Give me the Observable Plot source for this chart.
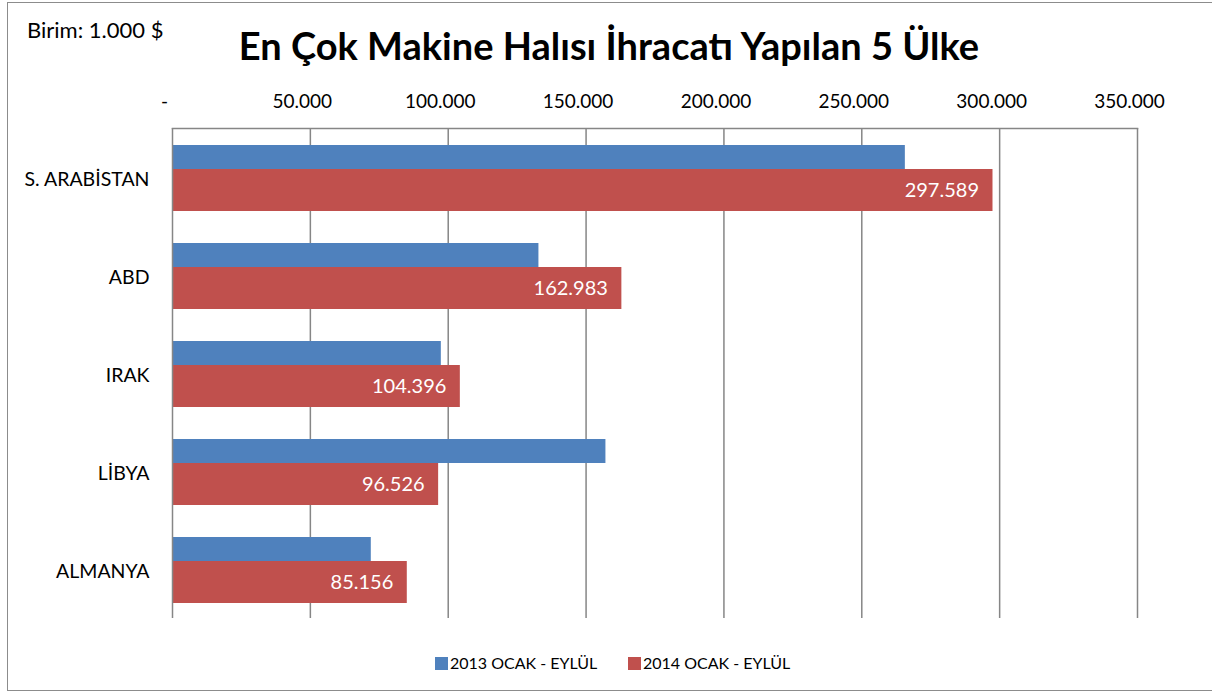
<!DOCTYPE html>
<html>
<head>
<meta charset="utf-8">
<script src="https://cdn.jsdelivr.net/npm/d3@7"></script>
<script src="https://cdn.jsdelivr.net/npm/@observablehq/plot@0.6"></script>
<style>
  html, body { margin: 0; padding: 0; background: #fff; }
  #wrap { position: relative; width: 1212px; height: 695px; font-family: Lato, "Liberation Sans", sans-serif; color: #000; overflow: hidden; }
  #border { position: absolute; left: 7px; top: 2px; width: 1210px; height: 689px; border: 1px solid #8c8c8c; box-sizing: border-box; pointer-events: none; }
  #unit { position: absolute; left: 27px; top: 16px; font-size: 22px; }
  #title { position: absolute; left: 0; width: 1218px; top: 22px; text-align: center; font-size: 38px; font-weight: bold; }
  #legend { position: absolute; left: 0; top: 653px; width: 1212px; font-size: 16px; }
  .item { position: absolute; top: 0; white-space: nowrap; }
  .sw { display: inline-block; width: 13px; height: 13px; vertical-align: -1px; margin-right: 2px; }
  #chart { position: absolute; left: 0; top: 0; }
</style>
</head>
<body>
<div id="wrap">
  <div id="chart"></div>
  <div id="unit">Birim: 1.000 $</div>
  <div id="title">En Çok Makine Halısı İhracatı Yapılan 5 Ülke</div>
  <div id="legend"></div>
  <div id="border"></div>
</div>
<script>
const countries = ["S. ARABİSTAN", "ABD", "IRAK", "LİBYA", "ALMANYA"];
const values2013 = [265800, 132900, 97500, 157200, 72100];
const values2014 = [297589, 162983, 104396, 96526, 85156];
const seriesNames = ["2013 OCAK - EYLÜL", "2014 OCAK - EYLÜL"];
const seriesColors = ["#4F81BD", "#C0504D"];
const xTicks = [0, 50000, 100000, 150000, 200000, 250000, 300000, 350000];

const trLocale = d3.formatLocale({decimal: ",", thousands: ".", grouping: [3], currency: ["", ""]});
const fmt = trLocale.format(",d");

const d2013 = countries.map((c, i) => ({country: c, value: values2013[i]}));
const d2014 = countries.map((c, i) => ({country: c, value: values2014[i]}));

const chart = Plot.plot({
  width: 1212,
  height: 695,
  marginLeft: 172,
  marginRight: 75,
  marginTop: 128,
  marginBottom: 77,
  style: {fontFamily: "Lato, 'Liberation Sans', sans-serif", background: "transparent"},
  x: {domain: [0, 350000], axis: null, label: null},
  y: {domain: countries, padding: 0, axis: null, label: null},
  marks: [
    Plot.ruleX(xTicks.slice(1), {stroke: "#868686", strokeWidth: 1.5}),
    Plot.barX(d2013, {y: "country", x: "value", fill: seriesColors[0], insetTop: 17, insetBottom: 57}),
    Plot.barX(d2014, {y: "country", x: "value", fill: seriesColors[1], insetTop: 41, insetBottom: 15}),
    Plot.ruleX([0], {stroke: "#868686", strokeWidth: 1.5}),
    Plot.frame({anchor: "top", stroke: "#868686", strokeWidth: 1.5}),
    Plot.axisX({anchor: "top", ticks: xTicks, tickSize: 0, tickPadding: 21, dx: -8, fontSize: 19, label: null,
      tickFormat: d => d === 0 ? "-" : fmt(d)}),
    Plot.axisY({anchor: "left", tickSize: 0, tickPadding: 23, dy: 2, fontSize: 19.5, label: null}),
    Plot.text(d2014, {y: "country", x: "value", text: d => fmt(d.value), textAnchor: "end",
      dx: -14, dy: 13, fill: "white", fontSize: 20})
  ]
});
document.getElementById("chart").appendChild(chart);

const legend = document.getElementById("legend");
const legendX = [435, 628];
seriesNames.forEach((name, i) => {
  const item = document.createElement("div");
  item.className = "item";
  item.style.left = legendX[i] + "px";
  item.innerHTML = `<span class="sw" style="background:${seriesColors[i]}"></span>${name}`;
  legend.appendChild(item);
});
</script>
</body>
</html>
